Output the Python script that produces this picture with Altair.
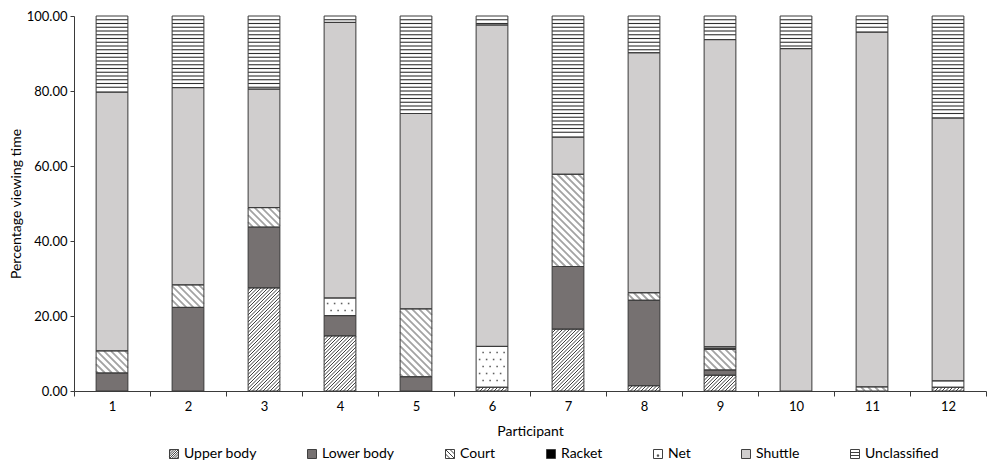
import altair as alt
import pandas as pd
import numpy as np

participants = list(range(1, 13))
categories = ["Upper body", "Lower body", "Court", "Racket", "Net", "Shuttle", "Unclassified"]
upper_body   = [0.0, 0.0, 27.5, 14.7, 0.0, 1.0, 16.5, 1.4, 4.2, 0.0, 0.0, 1.0]
lower_body   = [4.8, 22.3, 16.2, 5.4, 3.8, 0.0, 16.7, 22.8, 1.4, 0.0, 0.0, 0.0]
court        = [5.9, 6.0, 5.2, 0.0, 18.1, 0.0, 24.6, 2.0, 5.5, 0.0, 1.1, 0.0]
racket       = [0.0, 0.0, 0.0, 0.0, 0.0, 0.0, 0.0, 0.0, 0.3, 0.0, 0.0, 0.0]
net          = [0.0, 0.0, 0.0, 4.7, 0.0, 10.9, 0.0, 0.0, 0.4, 0.0, 0.0, 1.7]
shuttle      = [69.0, 52.6, 31.6, 73.5, 52.1, 85.7, 9.9, 64.0, 81.9, 91.3, 94.6, 70.1]
unclassified = [20.3, 19.1, 19.5, 1.7, 26.0, 2.4, 32.3, 9.8, 6.3, 8.7, 4.3, 27.2]
y_ticks = [0, 20, 40, 60, 80, 100]

series = {"Upper body": upper_body, "Lower body": lower_body, "Court": court,
          "Racket": racket, "Net": net, "Shuttle": shuttle, "Unclassified": unclassified}

FONT = "Lato"
EDGE = "#3a3a3a"
W, H = 912, 375
UX, UY = W / 12, H / 100
HW = 0.209

palette = {"Upper body": "#ffffff", "Lower body": "#767171", "Court": "#ffffff",
           "Racket": "#000000", "Net": "#ffffff", "Shuttle": "#d0cece", "Unclassified": "#ffffff"}
sq = "M-1,-1H1V1H-1Z"
paths = {
    "Upper body": sq + " M-1,0L0,-1 M-1,1L1,-1 M0,1L1,0 M-1,-0.5L-0.5,-1 M-1,0.5L0.5,-1 M-0.5,1L1,-0.5 M0.5,1L1,0.5",
    "Lower body": sq,
    "Court": sq + " M-1,0L0,1 M-1,-1L1,1 M0,-1L1,0",
    "Racket": sq,
    "Net": sq + " M-0.15,0.2h0.3v0.3h-0.3Z",
    "Shuttle": sq,
    "Unclassified": sq + " M-1,-0.33H1 M-1,0.33H1",
}

rows = []
for i, p in enumerate(participants):
    base = 0.0
    for c in categories:
        v = series[c][i]
        if v > 0:
            rows.append(dict(participant=p, category=c, value=v, y0=base, y1=base + v,
                             xl=p - HW, xr=p + HW, fill=palette[c]))
        base += v
seg = pd.DataFrame(rows)


def px2x(X):
    return X / UX + 0.5


def diag(r, hs, sign):
    XL, XR = (r.xl - 0.5) * UX, (r.xr - 0.5) * UX
    YB, YT = r.y0 * UY, r.y1 * UY
    out = []
    if sign > 0:
        cmin, cmax = XL - YT, XR - YB
        c = np.ceil(cmin / hs) * hs
        while c <= cmax:
            xa, xb = max(XL, YB + c), min(XR, YT + c)
            if xb - xa > 0.4:
                out.append((xa, xa - c, xb, xb - c))
            c += hs
    else:
        cmin, cmax = XL + YB, XR + YT
        c = np.ceil(cmin / hs) * hs
        while c <= cmax:
            xa, xb = max(XL, c - YT), min(XR, c - YB)
            if xb - xa > 0.4:
                out.append((xa, c - xa, xb, c - xb))
            c += hs
    return [dict(x=px2x(a), y=b / UY, x2=px2x(cc), y2=d / UY) for a, b, cc, d in out]


ub_lines, court_lines, unc_lines, net_dots = [], [], [], []
for r in seg.itertuples():
    if r.category == "Upper body":
        ub_lines += diag(r, 3.5, +1)
    elif r.category == "Court":
        court_lines += diag(r, 7.0, -1)
    elif r.category == "Unclassified":
        for k in range(int(np.ceil(r.y0)), int(np.floor(r.y1)) + 1):
            if k - r.y0 > 0.35 and r.y1 - k > 0.35:
                unc_lines.append(dict(x=r.xl, x2=r.xr, y=k, y2=k))
    elif r.category == "Net":
        XL, XR = (r.xl - 0.5) * UX, (r.xr - 0.5) * UX
        YB, YT = r.y0 * UY, r.y1 * UY
        j = 0
        Y = 3.5
        while Y < YT - 1.5:
            if Y > YB + 1.5:
                X = XL + 3.5 + (j % 2) * 3.5
                while X < XR - 1.5:
                    net_dots.append(dict(x=px2x(X), y=Y / UY))
                    X += 7.0
            j += 1
            Y += 7.0

xs = alt.Scale(domain=[0.5, 12.5], nice=False, zero=False)
ys = alt.Scale(domain=[0, 100], nice=False, zero=False)
# ticks sit between participants; each label is drawn half a slot to the left of its tick
x_axis = alt.Axis(values=[i + 0.5 for i in range(13)],
                  labelExpr="datum.value > 1 ? format(datum.value - 0.5, 'd') : ''",
                  labelOffset=-UX / 2, labelFlush=False, labelOverlap=False,
                  labelBound=False, tickSize=5, labelPadding=4, titlePadding=11, grid=False,
                  domainColor=EDGE, tickColor=EDGE, labelColor="black", titleColor="black",
                  labelFont=FONT, titleFont=FONT, labelFontSize=13, titleFontSize=14,
                  titleFontWeight="normal")
y_axis = alt.Axis(values=y_ticks, format=".2f", tickSize=4, labelPadding=3, titlePadding=3,
                  grid=False, domainColor=EDGE, tickColor=EDGE, labelColor="black",
                  titleColor="black", labelFont=FONT, titleFont=FONT, labelFontSize=13,
                  titleFontSize=14, titleFontWeight="normal")


def X(f):
    return alt.X(f, type="quantitative", scale=xs, axis=x_axis, title="Participant")


def Y(f):
    return alt.Y(f, type="quantitative", scale=ys, axis=y_axis, title="Percentage viewing time")


rects = alt.Chart(seg).mark_rect(strokeWidth=0).encode(
    x=X("xl"), x2="xr", y=Y("y0"), y2="y1", fill=alt.Fill("fill:N", scale=None))

ub = alt.Chart(pd.DataFrame(ub_lines)).mark_rule(color="#404040", strokeWidth=1.0).encode(
    x=X("x"), x2="x2", y=Y("y"), y2="y2")
ct = alt.Chart(pd.DataFrame(court_lines)).mark_rule(color="#a3a3a3", strokeWidth=1.8).encode(
    x=X("x"), x2="x2", y=Y("y"), y2="y2")
uc = alt.Chart(pd.DataFrame(unc_lines)).mark_rule(color="#303030", strokeWidth=1.1).encode(
    x=X("x"), x2="x2", y=Y("y"), y2="y2")
nd = alt.Chart(pd.DataFrame(net_dots)).mark_square(color="#606060", size=2.5, opacity=1).encode(
    x=X("x"), y=Y("y"))

outline = alt.Chart(seg).mark_rect(filled=False, color=EDGE, strokeWidth=1).encode(
    x=X("xl"), x2="xr", y=Y("y0"), y2="y1")

leg = alt.Legend(title=None, orient="none", legendX=93, legendY=H + 56,
                 direction="horizontal", columns=7, columnPadding=48, symbolSize=81,
                 labelFont=FONT, labelFontSize=14, labelColor="black", symbolStrokeWidth=1,
                 symbolOpacity=1, labelOffset=3, padding=0)
legend_layer = alt.Chart(seg).mark_point(filled=True, opacity=0).encode(
    x=X("participant"), y=Y("y1"),
    fill=alt.Fill("category:N", scale=alt.Scale(domain=categories, range=[palette[c] for c in categories]), legend=leg),
    shape=alt.Shape("category:N", scale=alt.Scale(domain=categories, range=[paths[c] for c in categories]), legend=leg),
    stroke=alt.Stroke("category:N", scale=alt.Scale(domain=categories, range=["#404040"] * 7), legend=leg),
)

chart = alt.layer(rects, ub, ct, uc, nd, outline, legend_layer).properties(
    width=W, height=H, padding={"left": 1, "top": 2, "right": 1, "bottom": 0}
).configure_view(strokeWidth=0)

chart.save("out.html", embed_options={"renderer": "svg", "actions": False})
